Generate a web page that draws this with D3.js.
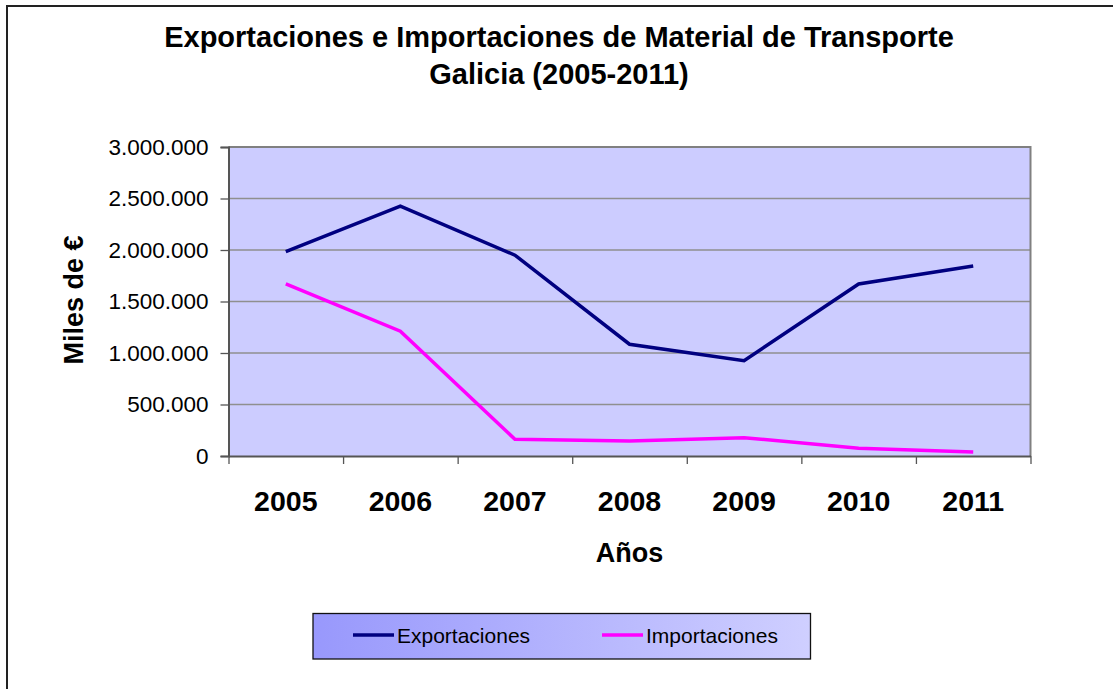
<!DOCTYPE html>
<html>
<head>
<meta charset="utf-8">
<script src="https://cdn.jsdelivr.net/npm/d3@7"></script>
<style>
  html, body { margin: 0; padding: 0; background: #fff; }
  svg { display: block; font-family: "Liberation Sans", Arial, sans-serif; }
</style>
</head>
<body>
<svg id="chart" width="1113" height="689"></svg>
<script>
const years = ["2005", "2006", "2007", "2008", "2009", "2010", "2011"];
const exportaciones = [1985000, 2425000, 1950000, 1085000, 925000, 1670000, 1845000];
const importaciones = [1670000, 1212000, 162000, 146000, 178000, 75000, 38000];
const yTicks = [0, 500000, 1000000, 1500000, 2000000, 2500000, 3000000];
const seriesNames = ["Exportaciones", "Importaciones"];
const seriesColors = ["#000080", "#ff00ff"];
const titleLines = ["Exportaciones e Importaciones de Material de Transporte", "Galicia (2005-2011)"];

const svg = d3.select("#chart");
const L = 228.5, R = 1030.5, T = 147, B = 456;

// outer chart border
svg.append("rect").attr("x", 7).attr("y", 6).attr("width", 1120).attr("height", 700)
  .attr("fill", "#fff").attr("stroke", "#222").attr("stroke-width", 2);

// title
svg.append("g").selectAll("text").data(titleLines).join("text")
  .attr("x", 559).attr("y", (d, i) => 47 + i * 37)
  .attr("text-anchor", "middle").attr("font-size", 29).attr("font-weight", "bold")
  .attr("fill", "#000").text(d => d);

const y = d3.scaleLinear().domain([0, 3000000]).range([B, T]);
const xBand = d3.scaleBand().domain(years).range([L, R]);
const xEdge = d3.scaleLinear().domain([0, years.length]).range([L, R]);

// plot background
svg.append("rect").attr("x", L).attr("y", T).attr("width", R - L).attr("height", B - T)
  .attr("fill", "#ccccff");

// gridlines
svg.append("g").selectAll("line").data(yTicks.filter(d => d > 0)).join("line")
  .attr("x1", L).attr("x2", R).attr("y1", d => y(d)).attr("y2", d => y(d))
  .attr("stroke", "#8f8f8f").attr("stroke-width", 1.3);

// plot border (right + top)
svg.append("path").attr("d", `M${L},${T}H${R}V${B}`).attr("fill", "none")
  .attr("stroke", "#808080").attr("stroke-width", 2);

// y axis
const fmt = v => d3.format(",")(v).replace(/,/g, ".");
const yAxis = svg.append("g").attr("transform", `translate(${L},0)`)
  .call(d3.axisLeft(y).tickValues(yTicks).tickFormat(fmt).tickSize(8).tickPadding(12));
yAxis.select(".domain").attr("stroke", "#555").attr("stroke-width", 2);
yAxis.selectAll(".tick line").attr("stroke", "#555").attr("stroke-width", 1.3);
yAxis.selectAll(".tick text").attr("font-size", 22.5).attr("fill", "#000")
  .attr("font-family", "Liberation Sans, Arial, sans-serif");

// x axis (ticks at category boundaries)
const xAxis = svg.append("g").attr("transform", `translate(0,${B})`)
  .call(d3.axisBottom(xEdge).tickValues(d3.range(years.length + 1)).tickFormat("").tickSize(8).tickSizeOuter(0));
xAxis.select(".domain").attr("stroke", "#555").attr("stroke-width", 2);
xAxis.selectAll(".tick line").attr("stroke", "#555").attr("stroke-width", 1.3);

// x labels
svg.append("g").selectAll("text").data(years).join("text")
  .attr("x", d => xBand(d) + xBand.bandwidth() / 2).attr("y", 511)
  .attr("text-anchor", "middle").attr("font-size", 28.5).attr("font-weight", "bold")
  .attr("fill", "#000").text(d => d);

// axis titles
svg.append("text").attr("x", (L + R) / 2).attr("y", 562).attr("text-anchor", "middle")
  .attr("font-size", 27).attr("font-weight", "bold").text("Años");
svg.append("text").attr("transform", "translate(83,300) rotate(-90)").attr("text-anchor", "middle")
  .attr("font-size", 27).attr("font-weight", "bold").text("Miles de €");

// lines
const line = d3.line().x((d, i) => xBand(years[i]) + xBand.bandwidth() / 2).y(d => y(d));
[exportaciones, importaciones].forEach((s, k) => {
  svg.append("path").datum(s).attr("d", line).attr("fill", "none")
    .attr("stroke", seriesColors[k]).attr("stroke-width", 3.5).attr("stroke-linejoin", "miter");
});

// legend
const defs = svg.append("defs");
const grad = defs.append("linearGradient").attr("id", "lg").attr("x1", "0").attr("x2", "1").attr("y1", "0").attr("y2", "0");
grad.append("stop").attr("offset", "0").attr("stop-color", "#9898fc");
grad.append("stop").attr("offset", "1").attr("stop-color", "#cfcfff");
svg.append("rect").attr("x", 313).attr("y", 613.5).attr("width", 497.5).attr("height", 45.5)
  .attr("fill", "url(#lg)").attr("stroke", "#111").attr("stroke-width", 1.3);
const legX = [353, 602];
seriesNames.forEach((n, k) => {
  svg.append("line").attr("x1", legX[k]).attr("x2", legX[k] + 41).attr("y1", 635).attr("y2", 635)
    .attr("stroke", seriesColors[k]).attr("stroke-width", 3.5);
  svg.append("text").attr("x", legX[k] + 44).attr("y", 642.5).attr("font-size", 21)
    .attr("fill", "#000").text(n);
});
</script>
</body>
</html>
